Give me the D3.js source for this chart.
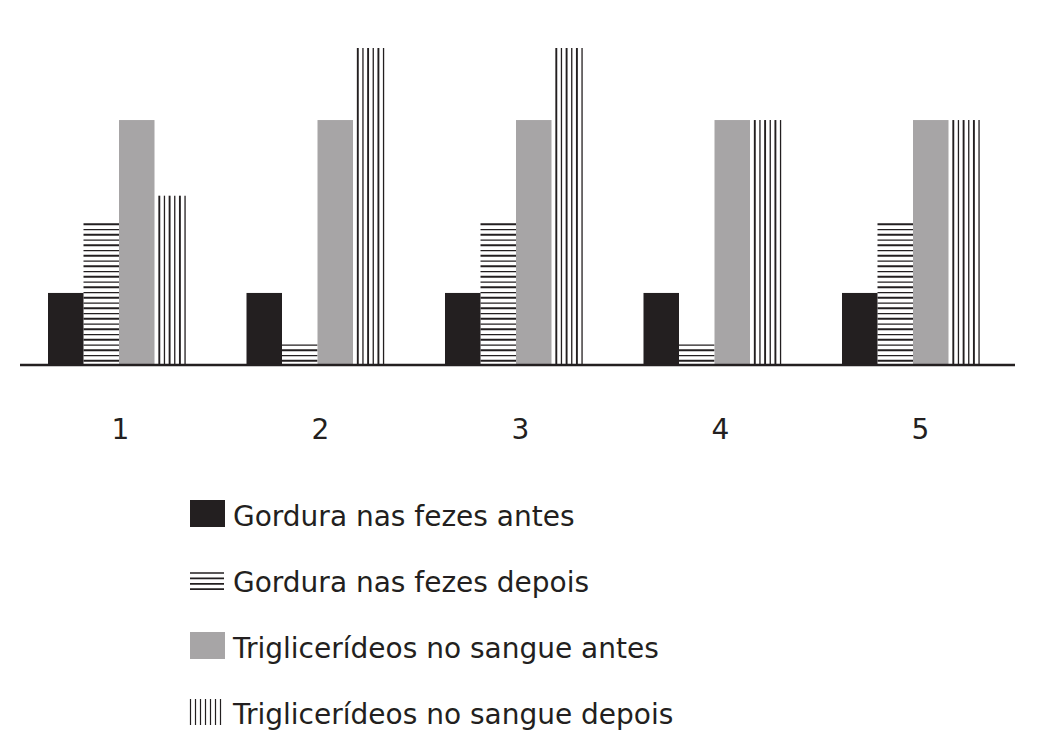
<!DOCTYPE html>
<html>
    <head>
        <script src="https://cdn.jsdelivr.net/npm/d3@7"></script>
        <style>
            body { margin: 0; background: #fff; }
            text { font-family: "DejaVu Sans", Verdana, sans-serif; fill: #231f20; }
        </style>
    </head>
    <body>
        <div id="viz"></div>

        <script>
            // data (one unit = height of the black bars)
            const groups = ["1", "2", "3", "4", "5"];
            const seriesNames = [
                "Gordura nas fezes antes",
                "Gordura nas fezes depois",
                "Triglicerídeos no sangue antes",
                "Triglicerídeos no sangue depois"
            ];
            const fatBefore = [1, 1, 1, 1, 1];
            const fatAfter = [2, 0.3, 2, 0.3, 2];
            const trigBefore = [3.4, 3.4, 3.4, 3.4, 3.4];
            const trigAfter = [2.35, 4.4, 4.4, 3.4, 3.4];

            const seriesValues = [fatBefore, fatAfter, trigBefore, trigAfter];
            const fills = ["solid", "hlines", "gray", "vlines"];

            const dark = "#231f20", gray = "#a7a5a6";
            const width = 1046, height = 750;
            const base = 365;

            const svg = d3.select("#viz").append("svg")
                .attr("width", width)
                .attr("height", height);

            const x = d3.scaleBand()
                .domain(groups)
                .range([48, 984])
                .paddingInner(0.2846)
                .paddingOuter(0);

            const xs = d3.scaleBand()
                .domain(d3.range(4))
                .range([0, x.bandwidth()]);

            const y = d3.scaleLinear()
                .domain([0, 4.4])
                .range([base, 48]);

            // flatten for drawing
            const rows = [];
            groups.forEach((g, gi) => {
                seriesValues.forEach((vals, si) => {
                    rows.push({ group: g, s: si, v: vals[gi] });
                });
            });

            const bars = svg.append("g").selectAll("g")
                .data(rows)
                .join("g")
                .attr("transform", d => "translate(" + (x(d.group) + xs(d.s)) + ",0)");

            // solid bars
            bars.filter(d => fills[d.s] === "solid" || fills[d.s] === "gray")
                .append("rect")
                .attr("x", 0)
                .attr("y", d => y(d.v))
                .attr("width", xs.bandwidth())
                .attr("height", d => y(0) - y(d.v))
                .attr("fill", d => fills[d.s] === "solid" ? dark : gray);

            // horizontal stripes, counted up from the baseline
            bars.filter(d => fills[d.s] === "hlines")
                .each(function(d) {
                    const top = y(d.v);
                    const ys = d3.range(base - 4.2, top - 1, -5.25);
                    d3.select(this).selectAll("line")
                        .data(ys)
                        .join("line")
                        .attr("x1", 0)
                        .attr("x2", xs.bandwidth())
                        .attr("y1", v => v)
                        .attr("y2", v => v)
                        .attr("stroke", dark)
                        .attr("stroke-width", (v, i) => i % 2 ? 1.3 : 1.9);
                });

            // vertical stripes
            bars.filter(d => fills[d.s] === "vlines")
                .each(function(d) {
                    const xsLines = d3.range(4.8, xs.bandwidth() - 4, 5.15);
                    d3.select(this).selectAll("line")
                        .data(xsLines)
                        .join("line")
                        .attr("x1", v => v)
                        .attr("x2", v => v)
                        .attr("y1", y(d.v))
                        .attr("y2", base)
                        .attr("stroke", dark)
                        .attr("stroke-width", (v, i) => i % 2 ? 1.3 : 1.9);
                });

            // baseline
            svg.append("line")
                .attr("x1", 20)
                .attr("x2", 1015)
                .attr("y1", base)
                .attr("y2", base)
                .attr("stroke", dark)
                .attr("stroke-width", 2.6);

            // group labels
            const xLabel = d3.scalePoint()
                .domain(groups)
                .range([120, 920]);

            const axis = svg.append("g")
                .attr("transform", "translate(0," + base + ")")
                .call(d3.axisBottom(xLabel).tickSize(0));
            axis.select(".domain").remove();
            axis.selectAll("text")
                .attr("y", 74)
                .attr("dy", 0)
                .style("font-size", "28px")
                .style("font-family", '"DejaVu Sans", Verdana, sans-serif')
                .attr("fill", dark);

            // legend
            const legend = svg.append("g")
                .attr("transform", "translate(190,0)");
            const rowY = d3.scaleLinear().domain([0, 3]).range([526, 724]);

            const item = legend.selectAll("g")
                .data(seriesNames)
                .join("g")
                .attr("transform", (d, i) => "translate(0," + rowY(i) + ")");

            item.filter((d, i) => i === 0 || i === 2)
                .append("rect")
                .attr("x", 0)
                .attr("y", -26)
                .attr("width", 35)
                .attr("height", 27)
                .attr("fill", (d, i) => i === 0 ? dark : gray);

            item.filter((d, i) => i === 1)
                .selectAll("line")
                .data(d3.range(4))
                .join("line")
                .attr("x1", 0)
                .attr("x2", 34)
                .attr("y1", k => -19 + k * 5.4)
                .attr("y2", k => -19 + k * 5.4)
                .attr("stroke", dark)
                .attr("stroke-width", 1.7);

            item.filter((d, i) => i === 3)
                .selectAll("line")
                .data(d3.range(7))
                .join("line")
                .attr("x1", k => 0.5 + k * 5)
                .attr("x2", k => 0.5 + k * 5)
                .attr("y1", -25)
                .attr("y2", 1)
                .attr("stroke", dark)
                .attr("stroke-width", 1.2);

            item.append("text")
                .attr("x", 43)
                .attr("y", 0)
                .style("font-size", "28px")
                .text(d => d);
        </script>
    </body>
</html>
